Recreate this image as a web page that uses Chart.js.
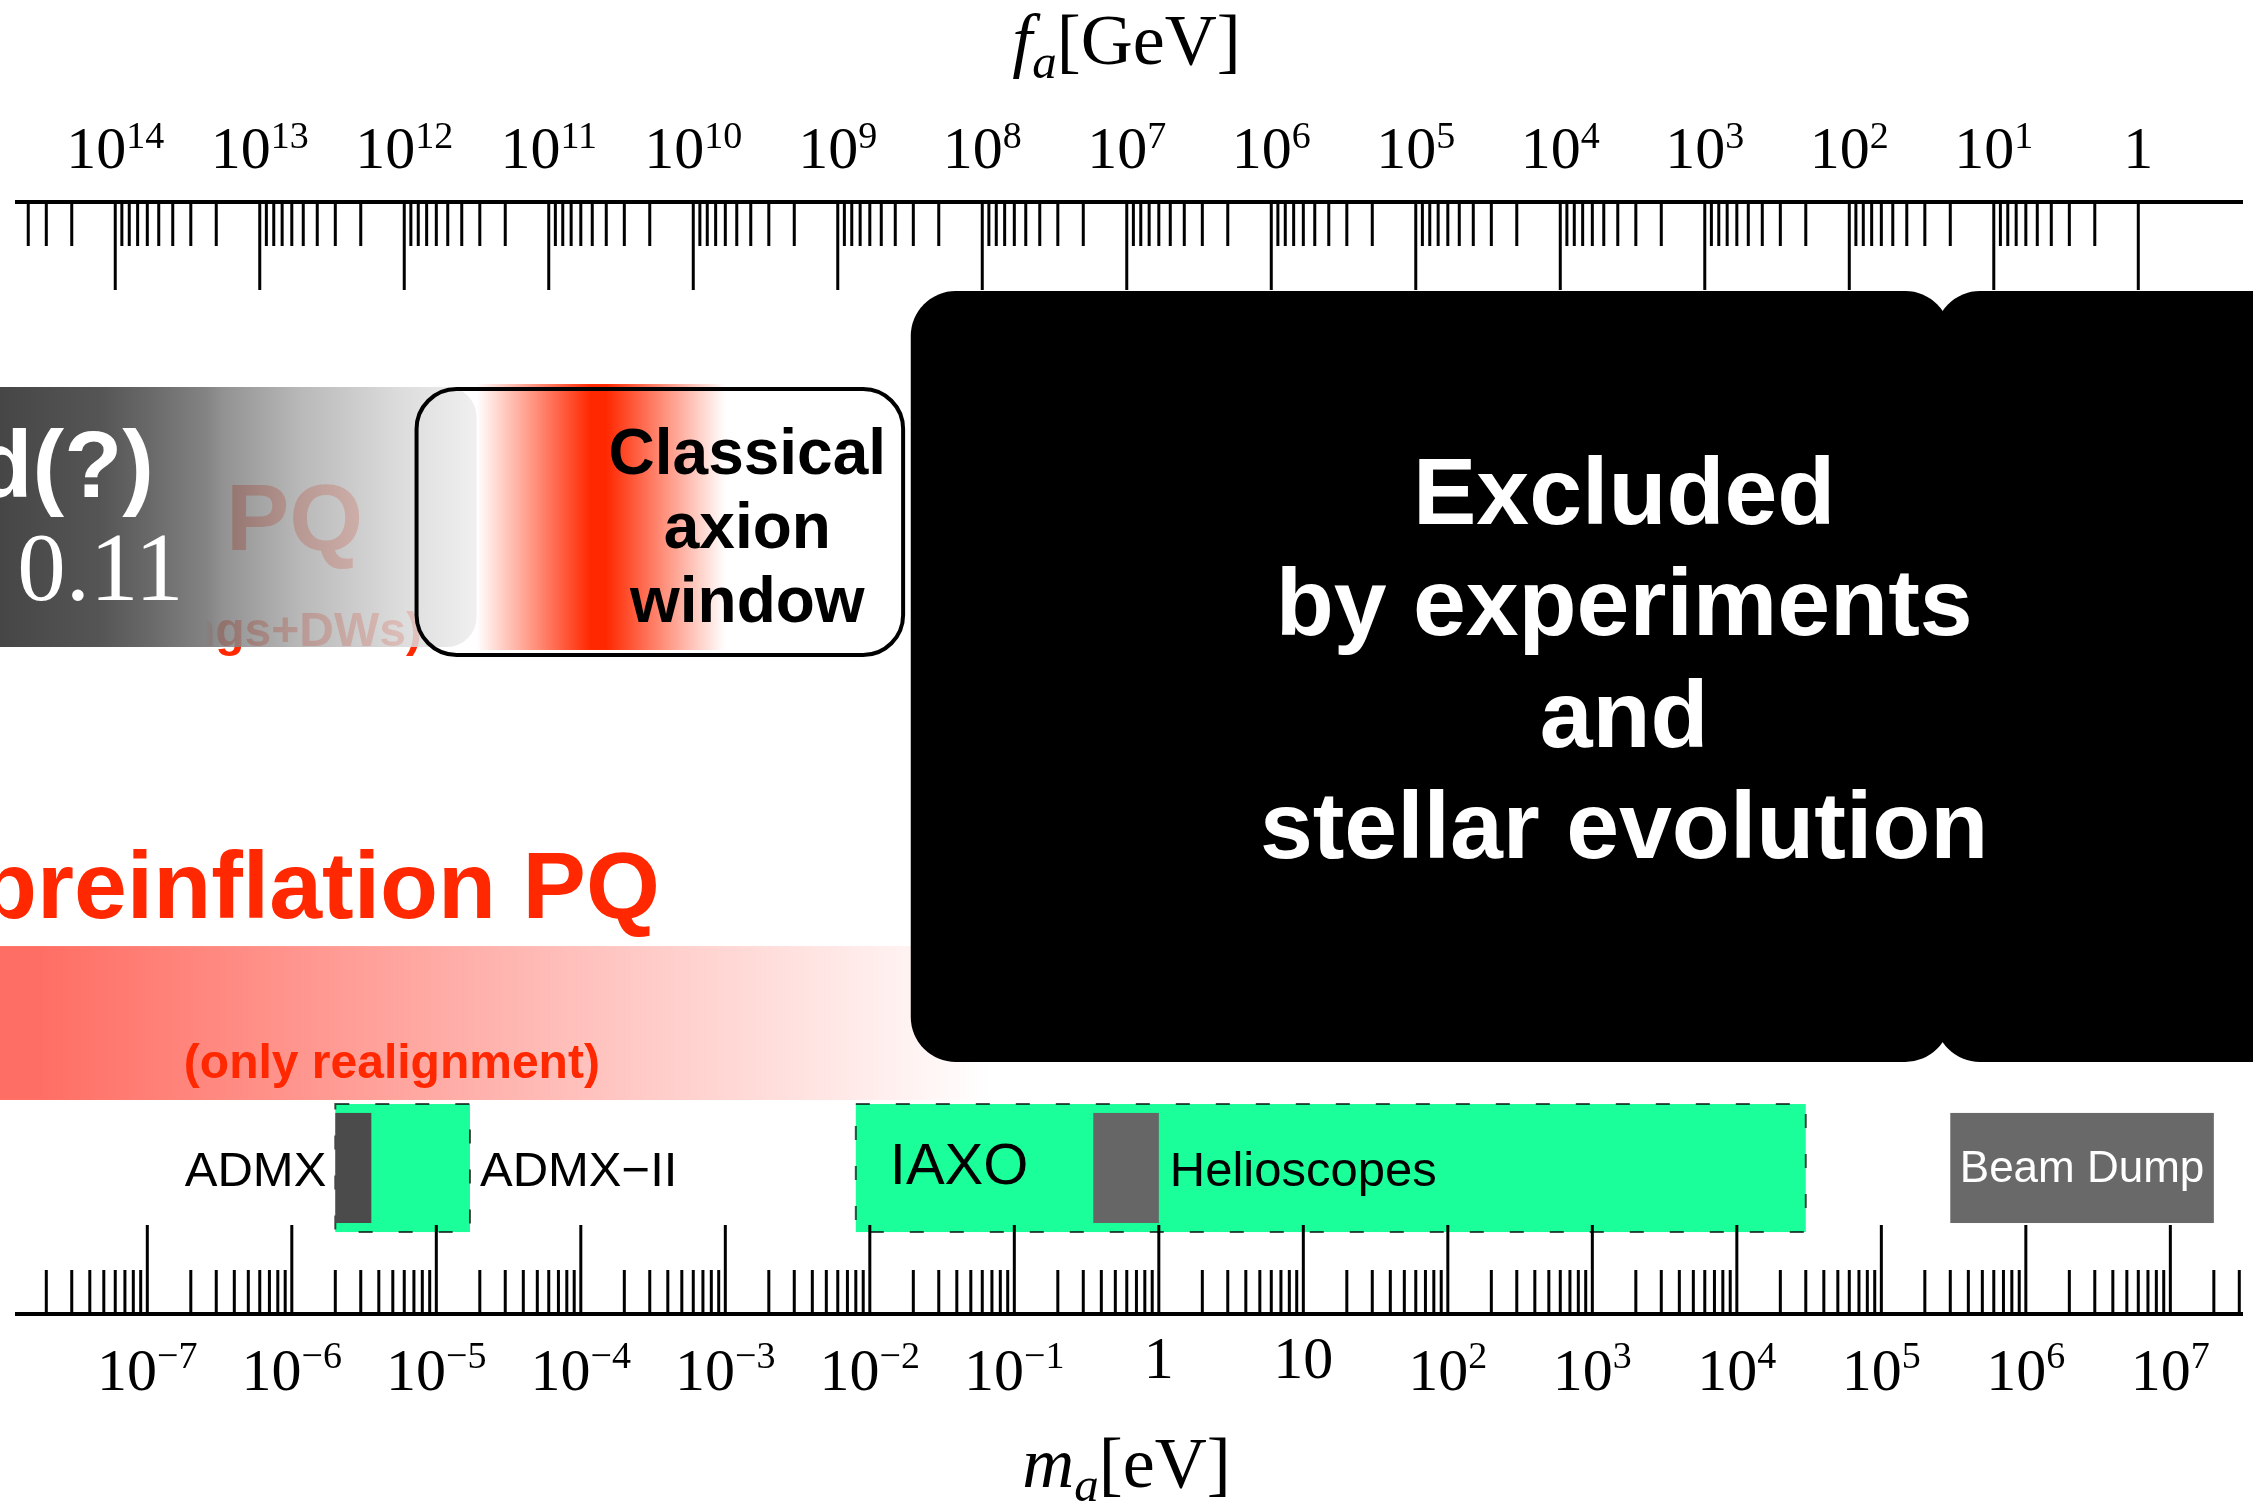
<!DOCTYPE html>
<html>
<head>
<meta charset="utf-8">
<script src="https://cdn.jsdelivr.net/npm/chart.js@4.4.1/dist/chart.umd.min.js"></script>
<style>
  html, body { margin: 0; padding: 0; background: #fff; }
  canvas { display: block; }
</style>
</head>
<body>
<canvas id="axionChart" width="2253" height="1506"></canvas>
<script>
// tick exponents of the two axes
const massExponents = [-7, -6, -5, -4, -3, -2, -1, 0, 1, 2, 3, 4, 5, 6, 7];
const faExponents = [14, 13, 12, 11, 10, 9, 8, 7, 6, 5, 4, 3, 2, 1, 0];
const MA_TIMES_FA = 6.0e6; // m_a[eV] * f_a[GeV]

// mass ranges in eV
const excludedMain = [1.92e-2, 3.0e5];
const excludedHigh = [2.35e5, 1e9];
const postInflationBand = [1e-9, 1.9e-5];
const classicalWindow = [7.3e-6, 1.7e-2];
const classicalShade = [1.9e-5, 1.17e-4, 1.5e-4, 1.0e-3]; // start, peak from, peak to, end
const preInflationBand = [1e-9, 6.8e-2];
const admx = [2.0e-6, 3.55e-6];
const admx2 = [2.0e-6, 1.71e-5];
const iaxo = [8.0e-3, 3.0e4];
const helioscopes = [0.352, 1.0];
const beamDump = [3.0e5, 2.0e7];

// where the big texts sit (eV)
const excludedTextAt = 1.66e3;
const classicalTextAt = 1.42e-3;

// vertical layout, % of the height from the top
const rows = {
  faTitle: 4.25, faLabel: 11.16, faSup: 9.83, faAxis: 13.41, faMinor: 16.33, faMajor: 19.26,
  excludedTop: 19.32, excludedBottom: 70.52, excludedLines: [34.79, 42.16, 49.60, 56.97],
  postTop: 25.70, postBottom: 42.96, postWord: 33.0, postValue: 39.84, postPQ: 36.52, postSub: 42.9,
  windowTop: 25.83, windowBottom: 43.49, shadeTop: 25.5, shadeBottom: 43.16,
  windowLines: [31.47, 36.39, 41.30],
  preText: 60.96, preTop: 62.82, preBottom: 73.04, preSub: 71.58,
  expTop: 73.31, expBottom: 81.81, innerTop: 73.90, innerBottom: 81.21, expText: 78.75, iaxoText: 78.62, beamText: 78.5,
  maMajor: 81.34, maMinor: 84.33, maAxis: 87.25, maSup: 90.84, maLabel: 92.3, maPlain: 91.5, maTitle: 98.74
};

const RED = '#ff2800';
const GREEN = '#1aff99';
const SANS = '"Liberation Sans", Arial, sans-serif';
const SERIF = '"Liberation Serif", "Times New Roman", serif';

function powerLabel(ctx, x, baseY, supY, base, exp, baseFont, supFont) {
  ctx.font = baseFont;
  const wb = ctx.measureText(base).width;
  ctx.font = supFont;
  const ws = exp ? ctx.measureText(exp).width : 0;
  const left = x - (wb + ws) / 2;
  ctx.textAlign = 'left';
  ctx.font = baseFont;
  ctx.fillText(base, left, baseY);
  if (exp) {
    ctx.font = supFont;
    ctx.fillText(exp, left + wb, supY);
  }
}

function supText(e) {
  return (e < 0 ? '\u2212' : '') + Math.abs(e);
}

const axionPlot = {
  id: 'axionPlot',
  afterDraw(chart) {
    const ctx = chart.ctx;
    const xs = chart.scales.x, ys = chart.scales.y;
    const X = v => xs.getPixelForValue(v);
    const Y = v => ys.getPixelForValue(v);
    const area = chart.chartArea;
    ctx.save();
    ctx.textBaseline = 'alphabetic';

    // preinflation band
    let x0 = Math.max(X(preInflationBand[0]), area.left), x1 = X(preInflationBand[1]);
    let g = ctx.createLinearGradient(X(1.8e-8), 0, x1, 0);
    g.addColorStop(0, 'rgba(255,45,30,0.69)');
    g.addColorStop(1, 'rgba(255,45,30,0)');
    ctx.fillStyle = g;
    ctx.fillRect(x0, Y(rows.preTop), x1 - x0, Y(rows.preBottom) - Y(rows.preTop));

    ctx.fillStyle = RED;
    ctx.textAlign = 'right';
    ctx.font = 'bold 95px ' + SANS;
    ctx.fillText('preinflation PQ', X(3.52e-4), Y(rows.preText));
    ctx.font = 'bold 48px ' + SANS;
    ctx.fillText('(only realignment)', X(1.355e-4), Y(rows.preSub));

    // postinflation texts, under the grey band
    ctx.font = 'bold 95px ' + SANS;
    ctx.fillText('postinflation PQ', X(3.12e-6), Y(rows.postPQ));
    ctx.font = 'bold 48px ' + SANS;
    ctx.fillText('(realignment+strings+DWs)', X(7.96e-6), Y(rows.postSub));

    // grey band: opaque and dark on the left, lighter and slightly see-through on the right
    x0 = X(postInflationBand[0]); x1 = X(postInflationBand[1]);
    g = ctx.createLinearGradient(x0, 0, x1, 0);
    [[0, 60, 1], [0.229, 70, 1], [0.391, 85, 1], [0.472, 105, 1], [0.561, 131, 1],
     [0.588, 126, 0.85], [0.714, 172, 0.85], [0.876, 214, 0.85], [1, 237, 0.85]].forEach(([s, c, a]) => {
      g.addColorStop(s, `rgba(${c},${c},${c},${a})`);
    });
    ctx.fillStyle = g;
    ctx.beginPath();
    ctx.roundRect(x0, Y(rows.postTop), x1 - x0, Y(rows.postBottom) - Y(rows.postTop), 30);
    ctx.fill();

    ctx.fillStyle = '#fff';
    ctx.textAlign = 'right';
    ctx.font = 'bold 95px ' + SANS;
    ctx.fillText('Excluded(?)', X(1.11e-7), Y(rows.postWord));
    ctx.textAlign = 'left';
    ctx.font = '97px ' + SERIF;
    ctx.fillText('0.11', X(1.26e-8), Y(rows.postValue));

    // classical axion window
    const s0 = X(classicalShade[0]), s3 = X(classicalShade[3]);
    g = ctx.createLinearGradient(s0, 0, s3, 0);
    g.addColorStop(0, 'rgba(255,40,0,0)');
    g.addColorStop((X(classicalShade[1]) - s0) / (s3 - s0), 'rgba(255,40,0,1)');
    g.addColorStop((X(classicalShade[2]) - s0) / (s3 - s0), 'rgba(255,40,0,1)');
    g.addColorStop(1, 'rgba(255,40,0,0)');
    ctx.fillStyle = g;
    ctx.fillRect(s0, Y(rows.shadeTop), s3 - s0, Y(rows.shadeBottom) - Y(rows.shadeTop));

    x0 = X(classicalWindow[0]); x1 = X(classicalWindow[1]);
    ctx.strokeStyle = '#000';
    ctx.lineWidth = 4;
    ctx.beginPath();
    ctx.roundRect(x0, Y(rows.windowTop), x1 - x0, Y(rows.windowBottom) - Y(rows.windowTop), 40);
    ctx.stroke();

    ctx.fillStyle = '#000';
    ctx.textAlign = 'center';
    ctx.font = 'bold 64px ' + SANS;
    ['Classical', 'axion', 'window'].forEach((t, i) => {
      ctx.fillText(t, X(classicalTextAt), Y(rows.windowLines[i]));
    });

    // excluded boxes
    ctx.fillStyle = '#000';
    [excludedMain, excludedHigh].forEach(r => {
      const a = X(r[0]), b = X(r[1]);
      ctx.beginPath();
      ctx.roundRect(a, Y(rows.excludedTop), b - a, Y(rows.excludedBottom) - Y(rows.excludedTop), 45);
      ctx.fill();
    });
    ctx.fillStyle = '#fff';
    ctx.textAlign = 'center';
    ctx.font = 'bold 95px ' + SANS;
    ['Excluded', 'by experiments', 'and', 'stellar evolution'].forEach((t, i) => {
      ctx.fillText(t, X(excludedTextAt), Y(rows.excludedLines[i]));
    });

    // experiments
    const eTop = Y(rows.expTop), eH = Y(rows.expBottom) - eTop;
    const iTop = Y(rows.innerTop), iH = Y(rows.innerBottom) - iTop;
    [admx2, iaxo].forEach(r => {
      const a = X(r[0]), b = X(r[1]);
      ctx.fillStyle = GREEN;
      ctx.fillRect(a, eTop, b - a, eH);
      ctx.strokeStyle = 'rgba(0,0,0,0.7)';
      ctx.lineWidth = 2;
      ctx.setLineDash([14, 26]);
      ctx.strokeRect(a, eTop, b - a, eH);
      ctx.setLineDash([]);
    });
    [[admx, '#4b4b4b'], [helioscopes, '#666666'], [beamDump, '#696969']].forEach(([r, c]) => {
      const a = X(r[0]), b = X(r[1]);
      ctx.fillStyle = c;
      ctx.fillRect(a, iTop, b - a, iH);
    });

    ctx.fillStyle = '#000';
    ctx.font = '49px ' + SANS;
    ctx.textAlign = 'right';
    ctx.fillText('ADMX', X(admx[0]) - 9, Y(rows.expText));
    ctx.textAlign = 'left';
    ctx.fillText('ADMX\u2212II', X(admx2[1]) + 10, Y(rows.expText));
    ctx.fillText('Helioscopes', X(helioscopes[1]) + 11, Y(rows.expText));
    ctx.font = '58px ' + SANS;
    ctx.fillText('IAXO', X(iaxo[0]) + 34, Y(rows.iaxoText));
    ctx.fillStyle = '#fff';
    ctx.font = '44px ' + SANS;
    ctx.textAlign = 'center';
    ctx.fillText('Beam Dump', (X(beamDump[0]) + X(beamDump[1])) / 2, Y(rows.beamText));

    // axes
    const lineL = area.left + 15, lineR = area.right - 10;
    ctx.strokeStyle = '#000';
    ctx.lineCap = 'butt';
    ctx.lineWidth = 4;
    ctx.beginPath();
    ctx.moveTo(lineL, Y(rows.faAxis)); ctx.lineTo(lineR, Y(rows.faAxis));
    ctx.moveTo(lineL, Y(rows.maAxis)); ctx.lineTo(lineR, Y(rows.maAxis));
    ctx.stroke();

    ctx.lineWidth = 3;
    ctx.beginPath();
    const tick = (m, yA, yB) => {
      const p = X(m);
      if (p < lineL + 5 || p > lineR) return;
      ctx.moveTo(p, Y(yA)); ctx.lineTo(p, Y(yB));
    };
    faExponents.forEach(e => tick(MA_TIMES_FA / Math.pow(10, e), rows.faAxis, rows.faMajor));
    for (let n = 0; n <= 14; n++) {
      for (let k = 2; k <= 9; k++) tick(MA_TIMES_FA / (k * Math.pow(10, n)), rows.faAxis, rows.faMinor);
    }
    massExponents.forEach(e => tick(Math.pow(10, e), rows.maAxis, rows.maMajor));
    for (let n = -8; n <= 7; n++) {
      for (let k = 2; k <= 9; k++) tick(k * Math.pow(10, n), rows.maAxis, rows.maMinor);
    }
    ctx.stroke();

    // tick labels
    ctx.fillStyle = '#000';
    const baseFont = '60px ' + SERIF, supFont = '38px ' + SERIF;
    faExponents.forEach(e => {
      const x = X(MA_TIMES_FA / Math.pow(10, e));
      if (e === 0) powerLabel(ctx, x, Y(rows.faLabel), 0, '1', '', baseFont, supFont);
      else powerLabel(ctx, x, Y(rows.faLabel), Y(rows.faSup), '10', supText(e), baseFont, supFont);
    });
    massExponents.forEach(e => {
      const x = X(Math.pow(10, e));
      if (e === 0) powerLabel(ctx, x, Y(rows.maPlain), 0, '1', '', baseFont, supFont);
      else if (e === 1) powerLabel(ctx, x, Y(rows.maPlain), 0, '10', '', baseFont, supFont);
      else powerLabel(ctx, x, Y(rows.maLabel), Y(rows.maSup), '10', supText(e), baseFont, supFont);
    });

    // axis titles
    const mid = (area.left + area.right) / 2;
    const title = (sym, unit, y) => {
      const f1 = 'italic 72px ' + SERIF, f2 = 'italic 49px ' + SERIF, f3 = '72px ' + SERIF;
      ctx.font = f1; const w1 = ctx.measureText(sym).width;
      ctx.font = f2; const w2 = ctx.measureText('a').width;
      ctx.font = f3; const w3 = ctx.measureText(unit).width;
      let x = mid - (w1 + w2 + w3) / 2;
      ctx.textAlign = 'left';
      ctx.font = f1; ctx.fillText(sym, x, y); x += w1;
      ctx.font = f2; ctx.fillText('a', x, y + 14); x += w2;
      ctx.font = f3; ctx.fillText(unit, x, y);
    };
    title('f', '[GeV]', Y(rows.faTitle));
    title('m', '[eV]', Y(rows.maTitle));

    ctx.restore();
  }
};

const chart = new Chart(document.getElementById('axionChart'), {
  type: 'scatter',
  data: { datasets: [] },
  options: {
    responsive: false,
    animation: false,
    devicePixelRatio: 1,
    layout: { padding: 0 },
    plugins: { legend: { display: false }, tooltip: { enabled: false } },
    scales: {
      x: { type: 'logarithmic', min: Math.pow(10, -8.0194), max: Math.pow(10, 7.572), bounds: 'data', display: false },
      y: { type: 'linear', min: 0, max: 100, reverse: true, display: false }
    }
  },
  plugins: [axionPlot]
});
</script>
</body>
</html>
